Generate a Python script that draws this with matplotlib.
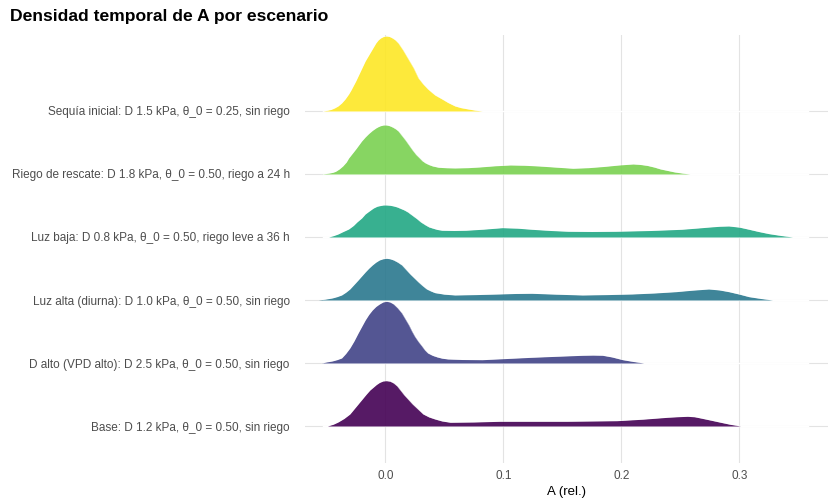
import matplotlib.pyplot as plt
import numpy as np

plt.rcParams['font.family'] = ['Liberation Sans', 'DejaVu Sans']

escenarios = [
    "Base: D 1.2 kPa, θ_0 = 0.50, sin riego",
    "D alto (VPD alto): D 2.5 kPa, θ_0 = 0.50, sin riego",
    "Luz alta (diurna): D 1.0 kPa, θ_0 = 0.50, sin riego",
    "Luz baja: D 0.8 kPa, θ_0 = 0.50, riego leve a 36 h",
    "Riego de rescate: D 1.8 kPa, θ_0 = 0.50, riego a 24 h",
    "Sequía inicial: D 1.5 kPa, θ_0 = 0.25, sin riego",
]

# densidad (unidades arbitrarias) de A para cada escenario
a_base = [-0.049, -0.044, -0.040, -0.035, -0.030, -0.0265, -0.023, -0.0195, -0.016, -0.013,
          -0.010, -0.0075, -0.005, -0.002, 0.001, 0.004, 0.007, 0.010, 0.013, 0.016, 0.0195,
          0.023, 0.0275, 0.032, 0.037, 0.042, 0.048, 0.055, 0.075, 0.097, 0.125, 0.154,
          0.175, 0.196, 0.218, 0.239, 0.248, 0.256, 0.262, 0.267, 0.275, 0.284, 0.292, 0.301]
d_base = [0, 1.8, 4, 7.5, 12, 17, 22, 27, 32, 36, 39, 41.5, 43.5, 45, 45.3, 44.8, 43, 40,
          35.5, 31, 26.5, 22, 17, 12, 9, 7, 5, 3.7, 4, 4.7, 4.7, 4.7, 5, 5.3, 6.8, 8.7, 9.3,
          9.7, 9.2, 8, 6, 3.7, 1.7, 0]

a_dalto = [-0.054, -0.050, -0.045, -0.041, -0.037, -0.0335, -0.030, -0.0265, -0.023, -0.020,
           -0.017, -0.014, -0.011, -0.008, -0.005, -0.002, 0.001, 0.004, 0.007, 0.0105, 0.014,
           0.017, 0.020, 0.0225, 0.025, 0.028, 0.031, 0.0335, 0.036, 0.040, 0.044, 0.048,
           0.053, 0.065, 0.082, 0.103, 0.124, 0.145, 0.167, 0.176, 0.184, 0.192, 0.201,
           0.210, 0.219]
d_dalto = [0, 1, 2, 3.3, 5, 9.5, 15, 22, 30, 36.5, 43, 48.5, 53, 56.5, 59, 61, 61.7, 61, 59,
           55, 50, 44, 38, 32, 26.7, 21.5, 17, 13, 10, 7.6, 6, 4.8, 4, 3.5, 3.3, 4.5, 5.7,
           6.7, 7.7, 7.9, 7.7, 6, 3.3, 1.5, 0]

a_luzalta = [-0.057, -0.051, -0.045, -0.041, -0.037, -0.0335, -0.030, -0.0265, -0.023,
             -0.020, -0.017, -0.014, -0.011, -0.008, -0.005, -0.002, 0.001, 0.004, 0.007,
             0.0105, 0.014, 0.0175, 0.021, 0.0245, 0.028, 0.0315, 0.035, 0.0385, 0.042,
             0.050, 0.059, 0.077, 0.096, 0.110, 0.124, 0.145, 0.167, 0.188, 0.209, 0.228,
             0.246, 0.260, 0.274, 0.283, 0.291, 0.300, 0.308, 0.318, 0.328]
d_luzalta = [0, 0.8, 2, 3.3, 5, 7.7, 11, 15.5, 20, 24, 28, 31.7, 35, 37.8, 40, 41.2, 41.7,
             41.2, 40, 37.8, 35, 30.5, 26, 22, 18, 14.3, 11, 9, 7.3, 5.8, 5, 5.4, 6, 6.5,
             6.7, 5.8, 5, 5.4, 6, 7, 8.3, 9.8, 11, 10, 8.3, 5.8, 3.3, 1.5, 0]

a_luzbaja = [-0.048, -0.044, -0.040, -0.036, -0.031, -0.027, -0.024, -0.020, -0.017, -0.013,
             -0.010, -0.007, -0.004, -0.0015, 0.001, 0.004, 0.007, 0.010, 0.013, 0.016, 0.019,
             0.023, 0.027, 0.030, 0.034, 0.037, 0.041, 0.044, 0.048, 0.058, 0.068, 0.083,
             0.099, 0.112, 0.124, 0.140, 0.155, 0.175, 0.195, 0.225, 0.251, 0.265, 0.275,
             0.283, 0.291, 0.300, 0.308, 0.316, 0.325, 0.335, 0.345]
d_luzbaja = [0, 1.3, 3, 5.3, 8, 11.5, 15, 19, 23, 26.5, 29, 30.7, 31.5, 32, 32, 31.7, 31, 30,
             28.5, 27, 25, 21.5, 18, 15, 12, 10, 8.5, 7.5, 6.7, 6.5, 6.7, 7.8, 9.3, 8.8, 7.7,
             6.5, 5.7, 5.5, 5.7, 6.5, 7.7, 9, 10, 10.7, 11, 9.8, 7.7, 5.5, 3.3, 1.5, 0]

a_riego = [-0.054, -0.050, -0.047, -0.044, -0.042, -0.039, -0.036, -0.033, -0.031, -0.028,
           -0.025, -0.0225, -0.020, -0.017, -0.014, -0.011, -0.008, -0.006, -0.004, -0.0015,
           0.001, 0.0035, 0.006, 0.0085, 0.011, 0.014, 0.017, 0.020, 0.023, 0.026, 0.029,
           0.0315, 0.034, 0.037, 0.040, 0.045, 0.052, 0.059, 0.070, 0.080, 0.093, 0.106,
           0.118, 0.130, 0.145, 0.159, 0.172, 0.185, 0.198, 0.210, 0.216, 0.222, 0.228,
           0.233, 0.239, 0.245, 0.252, 0.258]
d_riego = [0, 0.5, 1, 1.8, 2.7, 5, 8, 12, 16, 20.5, 25, 29, 33, 37, 40.5, 43.5, 46, 47.3,
           48.3, 49, 49, 48.3, 47, 45.3, 43, 38.5, 34, 29, 24, 19.5, 16, 13, 11, 9.3, 8, 6.7,
           6.2, 6, 6.3, 7, 8.2, 9, 8.7, 8, 6.8, 5.7, 6.3, 7.5, 9, 10, 9.5, 8.5, 6.8, 5, 3.5,
           2, 0.8, 0]

a_sequia = [-0.053, -0.049, -0.046, -0.043, -0.040, -0.037, -0.034, -0.031, -0.029, -0.027,
            -0.025, -0.023, -0.021, -0.019, -0.017, -0.0145, -0.012, -0.010, -0.008, -0.006,
            -0.004, -0.0015, 0.001, 0.0035, 0.006, 0.0085, 0.011, 0.013, 0.015, 0.017, 0.019,
            0.0215, 0.024, 0.026, 0.028, 0.032, 0.036, 0.039, 0.042, 0.045, 0.048, 0.053,
            0.059, 0.064, 0.070, 0.076, 0.082]
d_sequia = [0, 0.7, 1.5, 3, 5, 8, 12, 17, 21, 25.5, 30, 35, 40, 45, 50, 55, 60, 64, 68, 71,
            73, 74.5, 75, 74.5, 73, 71, 68, 64.5, 61, 57, 53, 48, 43, 38, 33, 27, 22, 19, 16,
            14, 12, 8.5, 5, 3.3, 2, 0.8, 0]

curvas = [(a_base, d_base), (a_dalto, d_dalto), (a_luzalta, d_luzalta),
          (a_luzbaja, d_luzbaja), (a_riego, d_riego), (a_sequia, d_sequia)]
colores = ['#440154', '#414487', '#2A788E', '#22A884', '#7AD151', '#FDE725']

# altura maxima de la cresta en unidades de fila
escala = 1.19 / max(max(d) for _, d in curvas)
rango = (-0.0525, 0.358)

fig = plt.figure(figsize=(8.29, 4.99), dpi=100)
ax = fig.add_axes([305 / 829, 36 / 499, 523 / 829, 428 / 499])

for i in range(len(escenarios)):
    ax.axhline(i + 1, color='#e3e3e3', lw=0.8, zorder=0)
for t in [0.0, 0.1, 0.2, 0.3]:
    ax.axvline(t, color='#e3e3e3', lw=0.8, zorder=0)

# de arriba hacia abajo: las filas inferiores quedan encima
for i in reversed(range(len(escenarios))):
    a, d = curvas[i]
    y0 = i + 1
    h = np.array(d) * escala
    z = 2 + (len(escenarios) - i) * 2
    ax.plot(rango, [y0, y0], color='white', lw=1.0, zorder=z - 1)
    ax.fill_between(a, y0, y0 + h, color=colores[i], alpha=0.9, lw=0, zorder=z)
    ax.plot(a, y0 + h, color='white', lw=0.3, alpha=0.6, zorder=z)

ax.set_xlim(-0.068, 0.375)
ax.set_ylim(0.413, 7.206)
ax.set_yticks(range(1, len(escenarios) + 1))
ax.set_yticklabels(escenarios)
ax.set_xticks([0.0, 0.1, 0.2, 0.3])
ax.set_xticklabels(['0.0', '0.1', '0.2', '0.3'])
ax.tick_params(axis='both', length=0, labelsize=8.5, labelcolor='#4d4d4d')
ax.tick_params(axis='y', pad=11)
ax.tick_params(axis='x', pad=5)
for s in ax.spines.values():
    s.set_visible(False)
ax.set_xlabel('A (rel.)', fontsize=9.5, color='black', labelpad=3)

fig.text(10 / 829, 1 - 17 / 499, 'Densidad temporal de A por escenario',
         fontsize=12.6, fontweight='bold', va='center', ha='left')

fig.savefig('out.png', dpi=100)
